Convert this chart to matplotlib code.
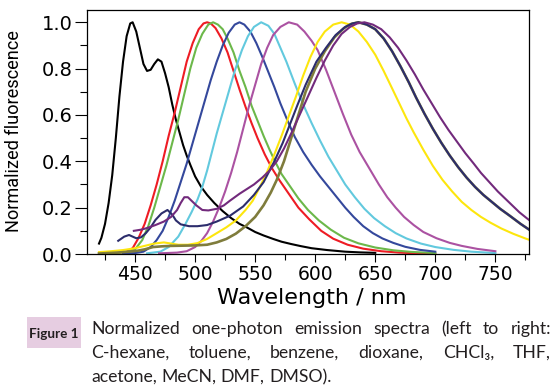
import matplotlib
matplotlib.use("Agg")
import matplotlib.pyplot as plt
from matplotlib.ticker import MultipleLocator
from matplotlib import font_manager as fm
from matplotlib.patches import Rectangle

W, H = 552, 388

# ---------------- data ----------------
chex_wl = [420,422,425,428,431,434,437,440,443,446,448,451,454,457,460,463,466,469,472,475,478,481,484,487,490,493,496,500,505,510,516,523,530,537,543,550,557,565,572,580,588,597,610,625,637,650]
chex_I = [.045,.07,.13,.22,.34,.50,.68,.83,.94,.995,1.0,.96,.89,.82,.79,.795,.82,.84,.83,.78,.72,.645,.58,.525,.47,.425,.385,.335,.29,.255,.22,.185,.155,.13,.115,.095,.08,.065,.053,.043,.034,.025,.017,.01,.007,.005]

tol_wl = [420,435,443,448,453,458,463,468,473,478,483,488,493,498,503,507,510,513,517,522,527,532,537,542,547,552,558,564,570,578,586,595,605,615,627,640,655,670,685,700]
tol_I = [.003,.005,.010,.025,.07,.13,.21,.30,.40,.51,.61,.72,.83,.91,.97,.995,1.0,.995,.975,.93,.87,.79,.71,.635,.565,.50,.43,.37,.32,.26,.20,.15,.10,.066,.04,.023,.012,.006,.003,.001]

benz_wl = [420,435,444,450,456,461,466,471,476,481,486,491,496,501,506,511,515,519,523,527,532,537,542,547,552,557,562,567,572,578,586,594,603,613,624,636,650,665,680,700]
benz_I = [.003,.005,.010,.02,.06,.12,.20,.29,.38,.48,.58,.69,.80,.89,.95,.99,1.0,.99,.97,.93,.87,.79,.72,.64,.575,.51,.45,.395,.345,.30,.24,.19,.145,.105,.07,.046,.028,.016,.009,.004]

diox_wl = [440,450,457,463,468,473,478,483,488,493,498,503,508,513,518,523,528,533,537,541,546,551,556,561,566,571,577,583,590,597,604,611,618,625,632,640,648,656,665,675,687,700]
diox_I = [.002,.004,.01,.03,.06,.10,.16,.23,.31,.39,.48,.57,.66,.75,.83,.90,.955,.99,1.0,.99,.96,.91,.85,.785,.72,.65,.575,.505,.44,.385,.335,.29,.245,.20,.16,.12,.09,.067,.048,.031,.018,.01]

chcl3_wl = [460,471,478,486,492,497,502,506,510,514,518,523,528,533,539,544,549,555,561,566,571,576,583,590,597,604,611,618,625,633,641,649,658,667,676,688,700,715,730,750]
chcl3_I = [.003,.01,.03,.075,.13,.18,.235,.29,.36,.44,.52,.61,.70,.79,.88,.94,.98,1.0,.985,.95,.89,.83,.735,.645,.565,.49,.42,.36,.30,.245,.195,.155,.12,.09,.067,.045,.03,.018,.01,.004]

thf_wl = [470,485,493,500,505,510,515,520,525,530,535,540,545,550,555,560,565,571,578,585,591,597,602,609,616,623,630,637,645,653,660,667,674,682,690,701,712,722,735,750]
thf_I = [.003,.006,.012,.03,.055,.09,.14,.20,.27,.35,.44,.54,.64,.73,.82,.89,.945,.98,1.0,.99,.96,.92,.88,.795,.70,.605,.515,.44,.37,.30,.245,.20,.16,.125,.095,.068,.048,.035,.022,.012]

acet_wl = [420,430,440,450,458,466,474,480,486,494,502,510,518,526,534,542,548,554,560,566,572,578,584,590,596,602,608,615,622,629,636,643,650,657,664,670,676,682,690,698,706,714,722,730,738,746,755,765,775,781]
acet_I = [.008,.012,.017,.025,.035,.045,.05,.045,.04,.04,.047,.065,.09,.115,.145,.19,.23,.29,.355,.43,.51,.595,.68,.77,.85,.915,.96,.99,1.0,.99,.96,.915,.86,.79,.715,.65,.585,.525,.45,.38,.32,.27,.225,.19,.16,.135,.11,.087,.067,.056]

mecn_wl = [420,435,445,452,458,465,472,480,490,500,510,518,526,534,542,550,557,563,568,574,580,586,592,600,608,616,624,630,636,643,650,657,664,671,678,684,691,698,705,712,719,726,733,740,747,754,762,771,781]
mecn_I = [.002,.006,.01,.014,.02,.03,.033,.035,.036,.037,.04,.05,.065,.088,.12,.16,.21,.265,.32,.40,.50,.60,.70,.80,.875,.935,.975,.993,1.0,.99,.97,.93,.875,.81,.74,.675,.605,.54,.48,.425,.375,.33,.29,.255,.225,.195,.165,.13,.095]

dmf_wl = [436,441,445,451,455,459,463,467,472,477,481,484,488,495,502,510,518,529,540,549,557,566,573,579,585,592,601,609,617,625,631,636,643,650,657,664,671,678,684,691,698,705,712,719,726,733,740,747,754,762,771,781]
dmf_I = [.057,.075,.082,.068,.072,.09,.115,.147,.175,.19,.17,.145,.128,.12,.12,.125,.14,.165,.205,.255,.31,.40,.48,.56,.64,.73,.83,.89,.945,.98,.995,1.0,.99,.97,.93,.875,.81,.74,.675,.605,.54,.48,.425,.375,.33,.29,.255,.225,.195,.165,.13,.095]

dmso_wl = [449,455,460,467,474,480,485,488,491,494,497,501,506,511,518,524,529,537,543,549,556,562,568,574,580,587,594,601,608,615,622,629,635,641,648,655,662,669,676,683,690,697,704,711,718,725,732,738,745,752,758,764,770,776,781]
dmso_I = [.10,.105,.112,.125,.14,.16,.19,.22,.245,.245,.23,.21,.19,.188,.195,.21,.23,.26,.28,.30,.33,.36,.40,.455,.52,.60,.68,.76,.835,.90,.95,.98,.995,1.0,.99,.97,.935,.89,.835,.775,.71,.65,.59,.535,.485,.435,.39,.35,.31,.27,.24,.21,.18,.155,.135]

series = [
    ("C-hexane", chex_wl, chex_I, "#000000"),
    ("toluene", tol_wl, tol_I, "#ee1c24"),
    ("benzene", benz_wl, benz_I, "#6cb84a"),
    ("dioxane", diox_wl, diox_I, "#34489c"),
    ("CHCl3", chcl3_wl, chcl3_I, "#62c9de"),
    ("THF", thf_wl, thf_I, "#ab52a2"),
    ("acetone", acet_wl, acet_I, "#fde60d"),
    ("MeCN", mecn_wl, mecn_I, "#7f7c3c"),
    ("DMF", dmf_wl, dmf_I, "#2c2d6c"),
    ("DMSO", dmso_wl, dmso_I, "#722a7c"),
]

x_ticks = [450, 500, 550, 600, 650, 700, 750]
y_ticks = [0.0, 0.2, 0.4, 0.6, 0.8, 1.0]

# ---------------- fonts ----------------
avail = {f.name for f in fm.fontManager.ttflist}
def pick(*names):
    for n in names:
        if n in avail:
            return n
    return "DejaVu Sans"
narrow = pick("Liberation Sans Narrow", "Roboto", "Lato")
capfont = pick("Lato", "Roboto", "Open Sans")
tickfont = "DejaVu Sans"

# ---------------- figure ----------------
fig = plt.figure(figsize=(W / 100, H / 100), dpi=100)
ax = fig.add_axes([87 / W, 1 - 254 / H, (529 - 87) / W, (254 - 10) / H])

for name, wl, inten, col in series:
    lw = 1.9 if name == "MeCN" else 1.5
    ax.plot(wl, inten, color=col, lw=lw, solid_joinstyle="round")

ax.set_xlim(410, 778)
ax.set_ylim(0, 1.053)
ax.set_xticks(x_ticks)
ax.set_yticks(y_ticks)
ax.set_yticklabels([f"{v:.1f}" for v in y_ticks])
ax.xaxis.set_minor_locator(MultipleLocator(25))
ax.yaxis.set_minor_locator(MultipleLocator(0.1))
ax.tick_params(axis="both", which="both", direction="out", top=False, right=False, width=0.8, color="black")
ax.tick_params(axis="x", which="major", length=6, pad=2, labelsize=13.5)
ax.tick_params(axis="x", which="minor", length=4)
ax.tick_params(axis="y", which="major", length=9, pad=1.5, labelsize=14)
ax.tick_params(axis="y", which="minor", length=5)
for lab in ax.get_xticklabels() + ax.get_yticklabels():
    lab.set_fontfamily(tickfont)
for sp in ax.spines.values():
    sp.set_linewidth(0.9)
    sp.set_color("black")

fig.canvas.draw()
r = fig.canvas.get_renderer()

def fit_size(txt, target_px, dim="width"):
    bb = txt.get_window_extent(r)
    cur = bb.width if dim == "width" else bb.height
    txt.set_fontsize(txt.get_fontsize() * target_px / cur)

xl = fig.text(312 / W, 1 - 303.5 / H, "Wavelength / nm", ha="center", va="baseline",
              fontsize=16, family=tickfont)
yl = fig.text(14 / W, 1 - 131 / H, "Normalized fluorescence", ha="center", va="center",
              rotation=90, fontsize=15, family=narrow)
fit_size(yl, 203, "height")

# ---------------- caption ----------------
fig.patches.append(Rectangle((27 / W, 1 - 348 / H), 54 / W, 31 / H, transform=fig.transFigure,
                             facecolor="#e6cde1", edgecolor="none"))
fl = fig.text(54 / W, 1 - 338 / H, "Figure 1", ha="center", va="baseline", fontsize=11,
              fontweight="bold", family=capfont, color="#231f20")
fit_size(fl, 49, "width")

cap_lines = [
    ["Normalized", "one-photon", "emission", "spectra", "(left", "to", "right:"],
    ["C-hexane,", "toluene,", "benzene,", "dioxane,", "CHCl\u2083,", "THF,"],
    ["acetone,", "MeCN,", "DMF,", "DMSO)."],
]
baselines = [334, 358, 382]
x0, x1 = 91, 551
fam = [capfont, "DejaVu Sans"]

# caption size: last line ~239 px wide, line 1 must fit with gaps >= 6 px
probe = fig.text(0, 0, "acetone, MeCN, DMF, DMSO).", fontsize=12, family=fam)
s = 12 * 239 / probe.get_window_extent(r).width
probe.remove()
probe = fig.text(0, 0, "", fontsize=s, family=fam)
ws = []
for w in cap_lines[0]:
    probe.set_text(w)
    ws.append(probe.get_window_extent(r).width)
probe.remove()
if sum(ws) + 36 > (x1 - x0):
    s = s * (x1 - x0 - 36) / sum(ws)

for i, (words, yb) in enumerate(zip(cap_lines, baselines)):
    txts = [fig.text(0, 0, w, fontsize=s, family=fam, color="#231f20",
                     va="baseline", ha="left") for w in words]
    widths = [t.get_window_extent(r).width for t in txts]
    if i < 2:
        gap = (x1 - x0 - sum(widths)) / (len(words) - 1)
    else:
        a = fig.text(0, 0, "a a", fontsize=s, family=fam)
        b = fig.text(0, 0, "aa", fontsize=s, family=fam)
        gap = a.get_window_extent(r).width - b.get_window_extent(r).width
        a.remove(); b.remove()
    x = x0
    for t, w in zip(txts, widths):
        t.set_position((x / W, 1 - yb / H))
        x += w + gap

fig.savefig("out.png", dpi=100)
